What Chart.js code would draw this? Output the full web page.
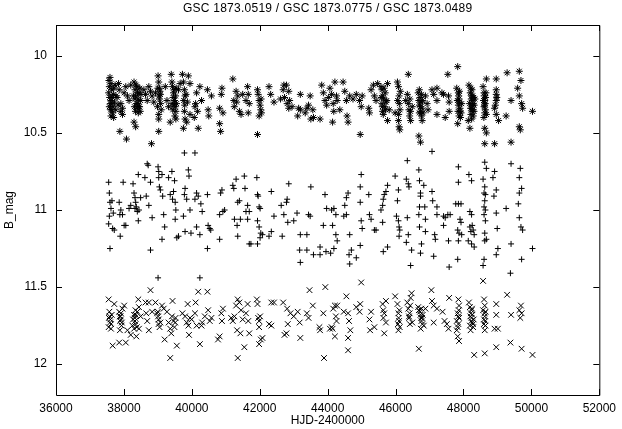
<!DOCTYPE html>
<html>
<head>
<meta charset="utf-8">
<script src="https://cdn.jsdelivr.net/npm/chart.js@4"></script>
<style>
html, body { margin: 0; padding: 0; background: #fff; }
canvas { display: block; }
</style>
</head>
<body>
<canvas id="lightCurve" width="622" height="429"></canvas>
<script>
const chartTitle = 'GSC 1873.0519 / GSC 1873.0775 / GSC 1873.0489';
const xTitle = 'HJD-2400000';
const yTitle = 'B_mag';
const xTicks = [36000, 38000, 40000, 42000, 44000, 46000, 48000, 50000, 52000];
const yTicks = [10, 10.5, 11, 11.5, 12];

// GSC 1873.0519 (asterisks), [HJD-2400000, B]
const starPoints = [
    [37590,10.14],[37571,10.20],[37551,10.24],[37619,10.29],[37571,10.33],[37668,10.37],[37697,10.40],[37765,10.26],
    [37842,10.18],[37861,10.22],[37910,10.31],[37958,10.34],[37910,10.36],[37958,10.38],[38007,10.24],[38055,10.20],
    [38104,10.26],[38152,10.29],[38201,10.19],[38298,10.17],[38327,10.22],[38346,10.26],[38366,10.31],[38395,10.34],
    [38424,10.37],[38443,10.24],[38492,10.29],[38298,10.43],[38346,10.46],[37881,10.49],[38075,10.54],[38589,10.22],
    [38637,10.25],[38686,10.29],[38734,10.20],[38783,10.23],[38831,10.26],[38880,10.30],[38928,10.24],[39006,10.13],
    [39025,10.17],[39044,10.21],[39074,10.25],[39025,10.38],[39025,10.41],[39025,10.49],[38812,10.57],[39219,10.20],
    [39268,10.29],[39316,10.33],[39364,10.43],[39394,10.12],[39413,10.17],[39432,10.20],[39461,10.24],[39491,10.29],
    [39510,10.33],[39529,10.36],[39529,10.41],[39607,10.22],[39655,10.18],[39723,10.12],[39752,10.17],[39781,10.22],
    [39801,10.26],[39781,10.36],[39801,10.41],[39752,10.47],[39849,10.43],[39898,10.13],[39946,10.18],[39946,10.38],
    [40072,10.40],[40092,10.33],[40111,10.31],[40140,10.24],[40169,10.36],[40189,10.47],[40237,10.20],[40286,10.29],
    [40460,10.22],[40480,10.35],[40499,10.39],[40577,10.26],[40819,10.34],[40868,10.25],[40887,10.21],[40916,10.37],
    [40819,10.44],[40848,10.49],[41207,10.15],[41236,10.29],[41304,10.23],[41352,10.26],[41401,10.36],[41449,10.38],
    [41498,10.25],[41595,10.29],
    [41643,10.20],[41662,10.25],[41691,10.31],[41662,10.37],[41934,10.22],[41953,10.25],[41982,10.29],[42011,10.32],
    [42031,10.35],[42050,10.37],[41982,10.39],[41934,10.51],[42273,10.20],[42322,10.25],[42419,10.30],[42613,10.28],
    [42690,10.22],[42710,10.19],[42787,10.19],[42855,10.23],[42807,10.31],[42855,10.34],[42952,10.33],[43117,10.39],
    [43146,10.34],[43195,10.25],[43195,10.35],[43340,10.37],[43388,10.34],[43437,10.32],[43485,10.26],[43505,10.41],
    [43563,10.35],[43582,10.40],[43776,10.41],[43825,10.19],[43873,10.24],[43922,10.29],[43970,10.32],[44067,10.21],
    [44116,10.25],[44164,10.31],[44145,10.43],[44213,10.17],[44261,10.26],[44281,10.29],[44358,10.35],[44455,10.17],
    [44504,10.23],[44552,10.29],[44571,10.39],[44601,10.43],[44649,10.26],[44746,10.28],[44843,10.25],[44940,10.29],
    [44988,10.33],[44959,10.51],[45017,10.26],[45211,10.34],[45231,10.37],[45279,10.22],[45347,10.19],[45376,10.26],
    [45425,10.29],[45473,10.18],[45570,10.20],[45599,10.31],[45619,10.36],[45638,10.38],[45696,10.24],[45716,10.30],
    [45764,10.18],[45764,10.42],[45813,10.35],[45987,10.37],[46055,10.17],[46084,10.20],[46104,10.26],[46084,10.42],
    [46104,10.46],[46123,10.48],[46298,10.29],[46346,10.25],[46375,10.31],[46395,10.35],[46414,10.39],[46443,10.42],
    [46375,10.12],[46492,10.33],[46666,10.24],[46685,10.29],[46705,10.32],[46734,10.36],[46763,10.39],[46783,10.42],
    [46685,10.52],[46734,10.56],[46879,10.26],[46928,10.31],[46957,10.35],[47073,10.22],[47122,10.25],
    [47219,10.21],[47219,10.29],[47219,10.38],[47365,10.24],[47413,10.25],[47462,10.40],[47539,10.12],[47559,10.26],
    [47578,10.30],[47578,10.36],[47801,10.21],[47830,10.07],[47850,10.24],[47869,10.28],[47850,10.32],[47898,10.34],
    [47869,10.39],[47830,10.44],[47927,10.37],[47947,10.31],[48141,10.42],[48160,10.19],[48189,10.47],[48218,10.21],
    [48238,10.26],[48257,10.29],[48286,10.31],[48238,10.34],[48257,10.36],[48286,10.39],[48315,10.32],[48335,10.28],
    [48577,10.20],[48606,10.24],[48626,10.29],[48606,10.33],[48626,10.37],[48645,10.35],[48674,10.38],[48626,10.47],
    [48674,10.50],[48674,10.15],[48626,10.57],[48916,10.57],[48965,10.15],[48965,10.22],[48965,10.25],[48965,10.29],
    [48916,10.34],[48965,10.38],[49033,10.42],[49256,10.39],[49285,10.11],[49401,10.29],[49401,10.56],[49595,10.21],
    [49644,10.26],[49644,10.46],[49673,10.48],[49644,10.10],[49692,10.16],[49712,10.31],[49741,10.34],[50032,10.36],
    [37620,10.18],[37640,10.22],[37660,10.27],[37600,10.31],[37680,10.33],[37700,10.21],[37640,10.35],[37620,10.39],
    [38380,10.20],[38420,10.28],[38460,10.33],[38400,10.24],[38480,10.36],[38340,10.36],[39050,10.28],[39080,10.31],
    [39000,10.21],[39450,10.27],[39480,10.22],[39520,10.26],[39550,10.31],[39500,10.39],[45620,10.26],[45650,10.28],
    [45680,10.33],[45600,10.22],[46110,10.31],[46130,10.35],[46090,10.38],[46720,10.27],[46750,10.30],[46780,10.34],
    [46700,10.37],[47860,10.26],[47880,10.30],[47900,10.36],[48200,10.24],[48230,10.28],[48260,10.32],[48280,10.35],
    [48300,10.27],[48220,10.38],[48610,10.26],[48640,10.31],[48650,10.27],
    [37560,10.16],[37580,10.27],[37610,10.35],[37650,10.31],[37690,10.25],[37720,10.30],[37740,10.19],[37760,10.35],
    [37800,10.27],[37830,10.32],[38280,10.26],[38310,10.33],[38330,10.28],[38360,10.19],[38410,10.31],[38440,10.33],
    [38470,10.21],[38500,10.25],[38990,10.33],[39030,10.26],[39060,10.23],[39100,10.35],[39420,10.31],[39440,10.35],
    [39470,10.32],[39540,10.21],[39760,10.29],[39790,10.32],[39830,10.25],[39870,10.30],[41250,10.33],[41320,10.30],
    [42040,10.28],[42730,10.27],[42880,10.29],[44030,10.27],[44180,10.36],[45580,10.27],[45610,10.33],[45660,10.21],
    [45700,10.35],[45740,10.29],[46060,10.29],[46140,10.23],[46420,10.28],[46440,10.36],[46700,10.22],[46730,10.33],
    [46760,10.25],[46790,10.29],[46810,10.37],[47820,10.29],[47840,10.36],[47880,10.23],[47910,10.40],[48180,10.31],
    [48210,10.34],[48250,10.22],[48270,10.26],[48310,10.36],[48240,10.41],[48590,10.29],[48620,10.32],[48660,10.24],
    [48600,10.40],[48940,10.32],[48980,10.27]
];

// GSC 1873.0775 (plus signs)
const plusPoints = [
    [37551,10.82],[37571,10.89],[37590,10.95],[37619,10.99],[37571,11.04],[37551,11.09],[37668,11.12],[37716,11.13],
    [37648,10.94],[37687,11.02],[37861,10.95],[37910,11.00],[37881,11.03],[37891,11.17],[37978,10.82],[37958,11.03],
    [38007,11.10],[38055,11.10],[37590,11.25],[38152,10.99],[38201,10.97],[38269,10.83],[38298,10.89],[38327,10.92],
    [38346,10.95],[38366,10.98],[38327,10.99],[38395,11.01],[38424,11.07],[38443,11.00],[38424,10.77],[38492,10.92],
    [38618,10.79],[38657,10.91],[38686,10.70],[38715,10.71],[38734,10.97],[38783,10.82],[38831,11.05],[38783,11.26],
    [39006,10.72],[39025,10.75],[39025,10.79],[39044,10.85],[39074,10.87],[39122,10.77],[39141,10.91],[39171,11.03],
    [39200,11.11],[39122,11.19],[39006,11.44],[39316,10.79],[39364,10.90],[39413,10.75],[39432,10.93],[39461,10.88],
    [39491,10.81],[39510,10.95],[39529,11.00],[39510,11.06],[39558,11.18],[39607,11.17],[39752,11.04],[39781,10.90],
    [39801,10.86],[39849,10.93],[39898,10.74],[39917,10.78],[39946,11.00],[39975,11.15],[39801,11.14],[39781,10.63],
    [40092,10.63],[40092,10.93],[40140,10.89],[40140,11.11],[40189,10.91],[40237,11.16],[40266,10.96],[40305,11.01],
    [40460,10.90],[40480,11.10],[40528,11.12],[40557,11.13],[40460,11.25],[40237,11.44],[40819,11.03],[40848,10.89],
    [40887,10.87],[40916,11.01],[40819,11.19],[40965,11.00],[41207,10.84],[41236,10.86],[41255,11.06],[41304,10.80],
    [41333,11.10],[41352,10.95],[41401,10.94],[41352,11.17],[41430,11.06],[41546,10.78],[41566,10.86],[41595,11.01],
    [41740,11.22],
    [41643,10.97],[41691,11.01],[41643,11.06],[41915,10.79],[41934,10.90],[41953,10.91],[41982,10.98],[42011,10.99],
    [41934,11.07],[41982,11.11],[42031,11.15],[42079,11.16],[42011,11.18],[41934,11.22],[41691,11.22],[42273,11.17],
    [42341,10.88],[42419,11.04],[42341,11.14],[42661,11.17],[42632,10.97],[42710,11.03],[42787,10.95],[42807,10.93],
    [42855,10.83],[42826,11.08],[43001,11.07],[43098,11.02],[43195,11.16],[43175,11.26],[43195,11.34],[43388,11.16],
    [43388,11.26],[43437,11.03],[43485,11.04],[43505,10.85],[43582,11.29],[43776,11.29],[43776,11.24],[43873,11.10],
    [43922,10.90],[43970,10.99],[43951,11.27],[44116,11.00],[44145,11.10],[44087,11.28],[44184,10.99],[44242,11.03],
    [44242,11.16],[44281,11.20],[44184,11.25],[44475,11.04],[44504,10.97],[44552,10.92],[44601,10.89],[44552,11.03],
    [44649,11.16],[44630,11.29],[44649,11.35],[44698,11.26],[44843,11.31],[44959,10.85],[44988,10.77],[44959,10.95],
    [44988,11.07],[45017,11.12],[44959,11.23],[45211,10.90],[45231,11.03],[45279,11.06],[45376,11.13],[45425,11.13],
    [45570,11.00],[45619,10.97],[45638,10.93],[45667,10.90],[45716,10.88],[45764,10.84],[45619,11.08],[45638,11.27],
    [45764,11.24],[45987,10.78],[46026,11.04],[46084,10.87],[46055,10.94],[46084,11.07],[46104,11.11],[46123,11.13],
    [46104,11.17],[46346,10.68],[46317,10.80],[46375,10.83],[46395,10.85],[46346,11.05],[46375,11.16],[46317,11.21],
    [46443,11.36],[46472,11.26],[46685,10.74],[46705,10.81],[46734,10.89],[46734,10.91],[46705,10.98],[46685,11.03],
    [46705,11.11],[46763,11.22],[46734,11.28],[46831,10.84],[46860,10.98],[46879,11.06],[46879,11.14],[47073,10.88],
    [47093,10.94],[47073,10.62],[47151,11.16],[47122,11.30],[47413,11.10],
    [47219,10.98],[47219,11.03],[47171,11.19],[47559,11.20],[47850,11.20],[47830,11.32],[47578,11.37],[47413,11.04],
    [47462,11.05],[47539,11.03],[47607,11.03],[47772,10.96],[47850,10.96],[47927,10.96],[47850,10.82],[47850,10.72],
    [47830,11.13],[47869,11.15],[47898,11.06],[47927,11.08],[47947,11.16],[48160,10.77],[48238,10.81],[48189,11.01],
    [48238,11.03],[48189,11.11],[48218,11.14],[48257,11.10],[48286,11.13],[48315,11.16],[48141,11.20],[48238,11.22],
    [48315,11.24],[48577,10.80],[48626,10.69],[48674,10.73],[48626,10.85],[48606,10.89],[48645,10.90],[48626,10.94],
    [48606,10.98],[48645,11.00],[48606,11.03],[48645,11.07],[48626,11.15],[48626,11.20],[48674,11.19],[48606,11.32],
    [48577,11.36],[48868,10.79],[48916,10.75],[48965,10.87],[48897,10.91],[48965,11.02],[48994,11.12],[49013,11.25],
    [48965,11.29],[49256,10.99],[49401,10.70],[49401,11.22],[49382,11.41],[49673,10.73],[49644,10.79],[49712,10.86],
    [49644,10.89],[49615,10.96],[49644,11.05],[49692,11.11],[49741,11.13],[49712,11.32],[50032,11.25]
];

// GSC 1873.0489 (crosses)
const crossPoints = [
    [37551,11.58],[37571,11.66],[37590,11.73],[37551,11.76],[37619,11.77],[37668,11.88],[37716,11.61],[37861,11.66],
    [37881,11.69],[37910,11.71],[37939,11.73],[37910,11.67],[37958,11.64],[38007,11.62],[37881,11.78],[37861,11.86],
    [38055,11.86],[38104,11.78],[38201,11.81],[38249,11.75],[38269,11.71],[38298,11.68],[38327,11.72],[38346,11.74],
    [38395,11.66],[38424,11.58],[38443,11.63],[38366,11.82],[38443,11.77],[38492,11.69],[38637,11.60],[38657,11.67],
    [38686,11.72],[38734,11.78],[38734,11.60],[38783,11.52],[38831,11.66],[38928,11.60],[38977,11.67],[39025,11.71],
    [39006,11.69],[39074,11.73],[39122,11.62],[39171,11.64],[39200,11.84],[39268,11.66],[39316,11.73],[39364,11.77],
    [39394,11.80],[39413,11.69],[39432,11.59],[39461,11.72],[39510,11.73],[39558,11.88],[39364,11.96],[39723,11.67],
    [39801,11.69],[39849,11.73],[39878,11.61],[39898,11.75],[39917,11.81],[39946,11.70],[39995,11.71],[40092,11.67],
    [40111,11.60],[40140,11.75],[40189,11.53],[40237,11.87],[40286,11.75],[40305,11.73],[40383,11.69],[40460,11.53],
    [40480,11.65],[40528,11.72],[40577,11.70],[40771,11.84],[40819,11.82],[40868,11.67],[40887,11.72],[40916,11.64],
    [41158,11.70],[41207,11.72],[41255,11.69],[41304,11.62],[41333,11.78],[41352,11.58],[41401,11.60],[41430,11.80],
    [41449,11.65],[41498,11.71],[41546,11.89],[41595,11.67],[41352,11.96],
    [41643,11.61],[41662,11.72],[41691,11.80],[41915,11.58],[41934,11.61],[41953,11.70],[41982,11.72],[42011,11.69],
    [41982,11.76],[42031,11.84],[41982,11.87],[42079,11.83],[42273,11.74],[42341,11.75],[42341,11.60],[42419,11.60],
    [42690,11.60],[42729,11.81],[42787,11.80],[42807,11.64],[42826,11.74],[42904,11.67],[43001,11.69],[43117,11.66],
    [43175,11.73],[43195,11.83],[43388,11.67],[43437,11.70],[43466,11.52],[43563,11.62],[43757,11.76],[43776,11.78],
    [43873,11.67],[43931,11.50],[44067,11.77],[44116,11.76],[44145,11.77],[44164,11.64],[44213,11.62],[44242,11.69],
    [44261,11.72],[44213,11.82],[44281,11.62],[44475,11.66],[44552,11.56],[44601,11.67],[44630,11.72],[44668,11.78],
    [44601,11.83],[44601,11.91],[44843,11.63],[44959,11.61],[44988,11.47],[44940,11.66],[45231,11.71],[45279,11.66],
    [45250,11.78],[45376,11.76],[45619,11.61],[45638,11.65],[45667,11.67],[45716,11.73],[45667,11.80],[45716,11.59],
    [45987,11.56],[46055,11.61],[46084,11.67],[46104,11.72],[46123,11.76],[46084,11.78],[46346,11.60],[46375,11.64],
    [46395,11.69],[46443,11.57],[46472,11.54],[46414,11.67],[46492,11.73],[46666,11.63],[46685,11.65],[46734,11.68],
    [46763,11.72],[46783,11.70],[46831,11.75],[46879,11.64],[46685,11.90],[47054,11.52],[47073,11.59],[47122,11.62],
    [47219,11.64],[47122,11.73],[43893,11.96],
    [47384,11.66],[47578,11.57],[47442,11.72],[47510,11.74],[47559,11.77],[47801,11.78],[47830,11.82],[47869,11.85],
    [47850,11.58],[47869,11.62],[47830,11.67],[47850,11.69],[47801,11.72],[48160,11.60],[48189,11.63],[48218,11.67],
    [48238,11.70],[48257,11.73],[48189,11.75],[48286,11.76],[48238,11.65],[48606,11.58],[48626,11.62],[48577,11.65],
    [48626,11.69],[48606,11.71],[48645,11.75],[48626,11.78],[48577,11.46],[48965,11.61],[48965,11.68],[48916,11.77],
    [49013,11.77],[49285,11.55],[49401,11.68],[49644,11.65],[49692,11.62],[49673,11.70],[49712,11.67],[48315,11.94],
    [48626,11.93],[48965,11.89],[49382,11.86],[49712,11.90],[50032,11.94],
    [37580,11.69],[37600,11.71],[37620,11.74],[37900,11.69],[37930,11.75],[38320,11.70],[38350,11.68],[38380,11.76],
    [39020,11.74],[39050,11.76],[39490,11.76],[39520,11.70],[46090,11.70],[46110,11.65],[46400,11.70],[46420,11.74],
    [46720,11.66],[46750,11.70],[46790,11.74],[46740,11.77],[47850,11.74],[47870,11.70],[48200,11.69],[48230,11.72],
    [48260,11.68],[48280,11.74],[48620,11.67],[48640,11.72],
    [37560,11.70],[37640,11.68],[37890,11.72],[38340,11.65],[38300,11.77],[39000,11.66],[45640,11.70],[46070,11.74],
    [46430,11.62],[46760,11.64],[46800,11.68],[47830,11.76],[47860,11.65],[48210,11.78],[48250,11.64],[48300,11.71],
    [48600,11.74],[48650,11.66]
];

const toXY = (pts) => pts.map(([x, y]) => ({ x, y }));
const font = { family: '"Liberation Sans", Arial, sans-serif', size: 12 };

const gnuplotFrame = {
    id: 'gnuplotFrame',
    afterDraw(chart) {
        const { ctx, chartArea: a, scales: { x, y } } = chart;
        ctx.save();
        ctx.strokeStyle = '#000';
        ctx.lineWidth = 1;
        ctx.beginPath();
        ctx.rect(a.left + 0.5, a.top + 0.5, a.right - a.left, a.bottom - a.top);
        xTicks.forEach((v) => {
            const px = Math.round(x.getPixelForValue(v)) + 0.5;
            ctx.moveTo(px, a.bottom); ctx.lineTo(px, a.bottom - 6);
            ctx.moveTo(px, a.top); ctx.lineTo(px, a.top + 6);
        });
        yTicks.forEach((v) => {
            const py = Math.round(y.getPixelForValue(v)) + 0.5;
            ctx.moveTo(a.left, py); ctx.lineTo(a.left + 6, py);
            ctx.moveTo(a.right, py); ctx.lineTo(a.right - 6, py);
        });
        ctx.stroke();

        ctx.fillStyle = '#000';
        ctx.font = `${font.size}px ${font.family}`;
        ctx.textAlign = 'center';
        ctx.textBaseline = 'middle';
        const cx = (a.left + a.right) / 2;
        ctx.letterSpacing = '0.25px';
        ctx.fillText(chartTitle, cx, 9);
        ctx.letterSpacing = '0px';
        ctx.fillText(xTitle, cx, 421);
        ctx.translate(10, (a.top + a.bottom) / 2);
        ctx.rotate(-Math.PI / 2);
        ctx.fillText(yTitle, 0, 0);
        ctx.restore();
    }
};

const series = (label, pts, style, radius) => ({
    label,
    data: toXY(pts),
    pointStyle: style,
    pointRadius: radius,
    borderColor: '#000',
    backgroundColor: '#000',
    borderWidth: 1,
    showLine: false,
});

new Chart(document.getElementById('lightCurve'), {
    type: 'scatter',
    data: {
        datasets: [
            series('GSC 1873.0519', starPoints, 'star', 3.5),
            series('GSC 1873.0775', plusPoints, 'cross', 3),
            series('GSC 1873.0489', crossPoints, 'crossRot', 4),
        ],
    },
    options: {
        responsive: false,
        animation: false,
        devicePixelRatio: 1,
        layout: { padding: { top: 25, right: 16, left: 0, bottom: 0 } },
        plugins: { legend: { display: false }, tooltip: { enabled: false } },
        scales: {
            x: {
                type: 'linear',
                min: 36000,
                max: 52000,
                grid: { display: false, drawTicks: false },
                border: { display: false },
                afterBuildTicks: (s) => { s.ticks = xTicks.map((value) => ({ value })); },
                afterFit: (s) => { s.height = 34; },
                ticks: { font, color: '#000', padding: 6, maxRotation: 0, callback: (v) => String(v) },
            },
            y: {
                type: 'linear',
                reverse: true,
                min: 9.8,
                max: 12.2,
                grid: { display: false, drawTicks: false },
                border: { display: false },
                afterBuildTicks: (s) => { s.ticks = yTicks.map((value) => ({ value })); },
                afterFit: (s) => { s.width = 56; },
                ticks: { font, color: '#000', padding: 9, callback: (v) => String(v) },
            },
        },
    },
    plugins: [gnuplotFrame],
});
</script>
</body>
</html>
